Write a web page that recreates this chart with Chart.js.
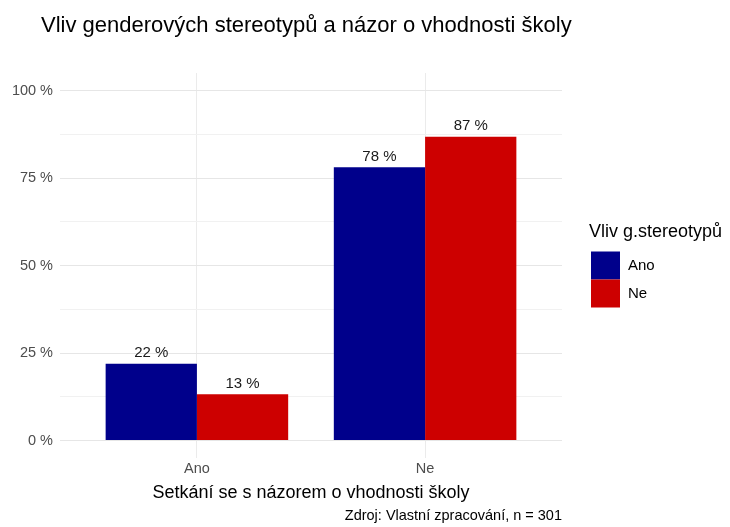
<!DOCTYPE html>
<html>
<head>
<meta charset="utf-8">
<script src="https://cdn.jsdelivr.net/npm/chart.js@4/dist/chart.umd.min.js"></script>
<style>
  html, body { margin: 0; padding: 0; background: #fff; }
  #wrap { width: 730px; height: 527px; }
</style>
</head>
<body>
<div id="wrap"><canvas id="chart" width="730" height="527"></canvas></div>
<script>
const categories = ["Ano", "Ne"];
const seriesNames = ["Ano", "Ne"];
const valuesAno = [21.9, 78.1];
const valuesNe = [13.2, 86.8];
const seriesColors = ["#00008B", "#CD0000"];
const yTicks = [0, 25, 50, 75, 100];
const yMinorTicks = [12.5, 37.5, 62.5, 87.5];

const TITLE = "Vliv genderových stereotypů a názor o vhodnosti školy";
const X_TITLE = "Setkání se s názorem o vhodnosti školy";
const CAPTION = "Zdroj: Vlastní zpracování, n = 301";
const LEGEND_TITLE = "Vliv g.stereotypů";

const FONT = "'Liberation Sans', Arial, sans-serif";
Chart.defaults.font.family = FONT;

function toPoints(values) {
  return values.map((v, i) => ({ x: i + 1, y: v }));
}

// title, caption, legend and bar labels drawn on the canvas
const decor = {
  id: "decor",
  afterDatasetsDraw(chart) {
    const ctx = chart.ctx;
    ctx.save();
    ctx.font = `15px ${FONT}`;
    ctx.fillStyle = "#1a1a1a";
    ctx.textAlign = "center";
    ctx.textBaseline = "bottom";
    chart.data.datasets.forEach((ds, di) => {
      chart.getDatasetMeta(di).data.forEach((bar, i) => {
        ctx.fillText(`${Math.round(ds.data[i].y)} %`, bar.x, bar.y - 3);
      });
    });
    ctx.restore();
  },
  afterDraw(chart) {
    const ctx = chart.ctx;
    const area = chart.chartArea;
    ctx.save();
    ctx.fillStyle = "#000";
    ctx.textBaseline = "middle";

    ctx.font = `22px ${FONT}`;
    ctx.textAlign = "left";
    ctx.fillText(TITLE, 41, 26);

    ctx.font = `14.5px ${FONT}`;
    ctx.textAlign = "right";
    ctx.fillText(CAPTION, area.right, 516);

    // legend
    const mid = (area.top + area.bottom) / 2;
    const lx = area.right + 29;
    ctx.textAlign = "left";
    ctx.font = `18px ${FONT}`;
    ctx.fillText(LEGEND_TITLE, area.right + 27, mid - 33);
    ctx.font = `15px ${FONT}`;
    seriesNames.forEach((name, i) => {
      const ky = mid - 14 + i * 28;
      ctx.fillStyle = seriesColors[i];
      ctx.fillRect(lx, ky, 29, 28);
      ctx.fillStyle = "#000";
      ctx.fillText(name, lx + 37, ky + 14);
    });
    ctx.restore();
  },
};

new Chart(document.getElementById("chart"), {
  type: "bar",
  data: {
    datasets: [
      { label: seriesNames[0], data: toPoints(valuesAno), backgroundColor: seriesColors[0] },
      { label: seriesNames[1], data: toPoints(valuesNe), backgroundColor: seriesColors[1] },
    ],
  },
  options: {
    responsive: false,
    animation: false,
    categoryPercentage: 0.8,
    barPercentage: 1.0,
    layout: { padding: { left: 0, right: 168, top: 73, bottom: 23 } },
    plugins: {
      legend: { display: false },
      tooltip: { enabled: false },
    },
    scales: {
      x: {
        type: "linear",
        min: 0.4,
        max: 2.6,
        offset: false,
        border: { display: false },
        grid: { color: "#ebebeb", drawTicks: false, offset: false },
        afterBuildTicks: (s) => {
          s.ticks = categories.map((c, i) => ({ value: i + 1 }));
        },
        afterFit: (s) => {
          s.height = 46;
        },
        ticks: {
          autoSkip: false,
          maxRotation: 0,
          padding: 2,
          color: "#4d4d4d",
          font: { size: 14.5 },
          callback: (v) => categories[v - 1] ?? "",
        },
        title: {
          display: true,
          text: X_TITLE,
          color: "#000",
          font: { size: 18 },
          padding: 0,
        },
      },
      y: {
        min: -5,
        max: 105,
        border: { display: false },
        grid: {
          drawTicks: false,
          color: (c) => (c.tick && c.tick.value % 25 === 0 ? "#e6e6e6" : "#f1f1f1"),
        },
        afterBuildTicks: (s) => {
          s.ticks = [...yTicks, ...yMinorTicks].sort((a, b) => a - b).map((v) => ({ value: v }));
        },
        afterFit: (s) => {
          s.width = 60;
        },
        ticks: {
          autoSkip: false,
          padding: 7,
          color: "#4d4d4d",
          font: { size: 14.5 },
          callback: (v) => (yTicks.includes(v) ? `${v} %` : ""),
        },
      },
    },
  },
  plugins: [decor],
});
</script>
</body>
</html>
